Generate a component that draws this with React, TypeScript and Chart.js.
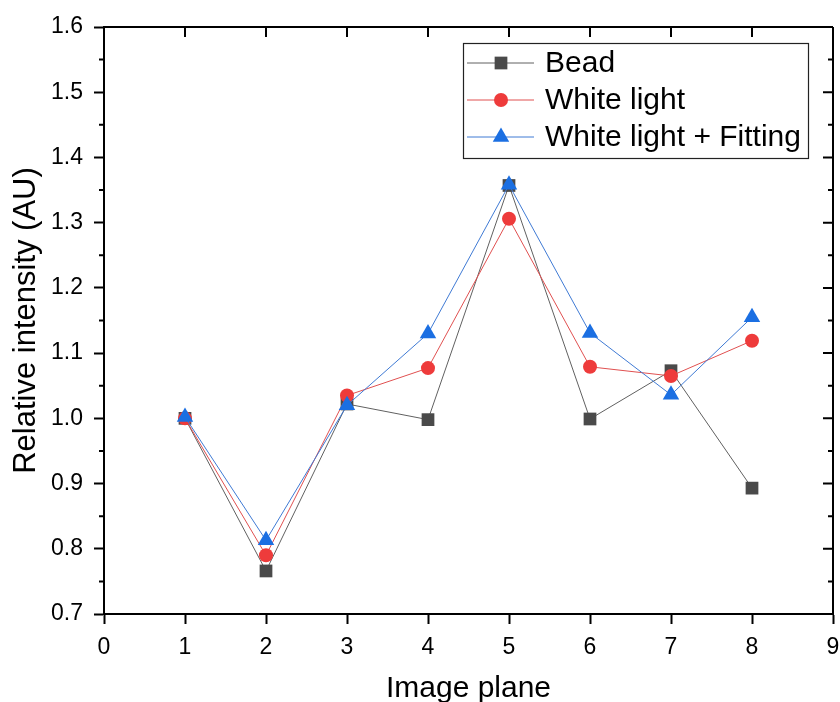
import { useEffect, useRef } from 'react';
import { Chart, registerables } from 'chart.js';

Chart.register(...registerables);

// Image planes along the x axis
const planes = [1, 2, 3, 4, 5, 6, 7, 8];

// Relative intensity per image plane
const beadValues = [1.0, 0.766, 1.022, 0.998, 1.357, 0.999, 1.073, 0.893];
const whiteLightValues = [1.0, 0.79, 1.035, 1.077, 1.306, 1.079, 1.065, 1.119];
const fittingValues = [1.002, 0.813, 1.02, 1.13, 1.358, 1.131, 1.036, 1.155];

// Axis ranges and tick positions
const xRange = [0, 9];
const yRange = [0.7, 1.6];
const xMajorTicks = [0, 1, 2, 3, 4, 5, 6, 7, 8, 9];
const yMajorTicks = [0.7, 0.8, 0.9, 1.0, 1.1, 1.2, 1.3, 1.4, 1.5, 1.6];
const yMinorTicks = [0.75, 0.85, 0.95, 1.05, 1.15, 1.25, 1.35, 1.45, 1.55];

const FONT = '"Liberation Sans", Arial, sans-serif';

const seriesStyle = [
  { label: 'Bead', values: beadValues, line: '#606060', fill: '#4a4a4a', shape: 'rect', radius: 9, order: 3 },
  { label: 'White light', values: whiteLightValues, line: '#e05050', fill: '#ee3b3b', shape: 'circle', radius: 7, order: 2 },
  { label: 'White light + Fitting', values: fittingValues, line: '#3f7ad4', fill: '#1b6fe2', shape: 'triangle', radius: 9.5, order: 1 },
];

function drawMarker(ctx: CanvasRenderingContext2D, shape: string, x: number, y: number, r: number, color: string) {
  ctx.save();
  ctx.fillStyle = color;
  ctx.beginPath();
  if (shape === 'rect') {
    const s = Math.SQRT1_2 * r;
    ctx.rect(x - s, y - s, 2 * s, 2 * s);
  } else if (shape === 'circle') {
    ctx.arc(x, y, r, 0, Math.PI * 2);
  } else {
    let a = 0;
    ctx.moveTo(x + Math.sin(a) * r, y - Math.cos(a) * r);
    a += (2 * Math.PI) / 3;
    ctx.lineTo(x + Math.sin(a) * r, y - Math.cos(a) * r);
    a += (2 * Math.PI) / 3;
    ctx.lineTo(x + Math.sin(a) * r, y - Math.cos(a) * r);
    ctx.closePath();
  }
  ctx.fill();
  ctx.restore();
}

// Top/right frame with inward ticks, plus minor ticks on the y axes
const framePlugin = {
  id: 'frame',
  afterDraw(chart: any) {
    const { ctx, chartArea } = chart;
    const xs = chart.scales.x;
    const ys = chart.scales.y;
    const { left, right, top, bottom } = chartArea;
    ctx.save();
    ctx.strokeStyle = '#000';
    ctx.lineWidth = 2;
    ctx.beginPath();
    ctx.moveTo(left, top);
    ctx.lineTo(right, top);
    ctx.moveTo(right, top);
    ctx.lineTo(right, bottom);
    ctx.stroke();

    ctx.beginPath();
    // top inward major ticks
    xMajorTicks.forEach((v) => {
      const px = xs.getPixelForValue(v);
      ctx.moveTo(px, top);
      ctx.lineTo(px, top + 10);
    });
    // right inward major ticks
    yMajorTicks.forEach((v) => {
      const py = ys.getPixelForValue(v);
      ctx.moveTo(right, py);
      ctx.lineTo(right - 10, py);
    });
    // minor ticks: left outward, right inward
    yMinorTicks.forEach((v) => {
      const py = ys.getPixelForValue(v);
      ctx.moveTo(left, py);
      ctx.lineTo(left - 5, py);
      ctx.moveTo(right, py);
      ctx.lineTo(right - 5, py);
    });
    ctx.stroke();
    ctx.restore();
  },
};

// Boxed legend in the upper right of the plot
const legendPlugin = {
  id: 'boxLegend',
  afterDraw(chart: any) {
    const { ctx } = chart;
    const boxX = 463;
    const boxY = 43;
    const boxW = 345;
    const boxH = 115;
    ctx.save();
    ctx.fillStyle = '#fff';
    ctx.fillRect(boxX, boxY, boxW, boxH);
    ctx.strokeStyle = '#222';
    ctx.lineWidth = 1.2;
    ctx.strokeRect(boxX + 0.5, boxY + 0.5, boxW, boxH);
    ctx.font = `30px ${FONT}`;
    ctx.textBaseline = 'middle';
    ctx.textAlign = 'left';
    seriesStyle.forEach((s, i) => {
      const cy = boxY + 20 + i * 37;
      ctx.strokeStyle = s.line;
      ctx.lineWidth = 1;
      ctx.beginPath();
      ctx.moveTo(467, cy);
      ctx.lineTo(534, cy);
      ctx.stroke();
      drawMarker(ctx, s.shape, 501, cy, s.radius, s.fill);
      ctx.fillStyle = '#000';
      ctx.fillText(s.label, 545, cy + 1);
    });
    ctx.restore();
  },
};

export default function App() {
  const canvasRef = useRef<HTMLCanvasElement | null>(null);

  useEffect(() => {
    const canvas = canvasRef.current;
    if (!canvas) return;
    const chart = new Chart(canvas, {
      type: 'line',
      data: {
        datasets: seriesStyle.map((s) => ({
          label: s.label,
          data: planes.map((p, i) => ({ x: p, y: s.values[i] })),
          borderColor: s.line,
          backgroundColor: s.fill,
          borderWidth: 1,
          pointStyle: s.shape as any,
          pointRadius: s.radius,
          pointBorderWidth: 0,
          pointBackgroundColor: s.fill,
          pointBorderColor: s.fill,
          tension: 0,
          order: s.order,
        })),
      },
      options: {
        animation: false,
        responsive: false,
        devicePixelRatio: 1,
        layout: { autoPadding: false, padding: { left: 0, top: 27, right: 7, bottom: 0 } },
        plugins: {
          legend: { display: false },
          tooltip: { enabled: false },
        },
        scales: {
          x: {
            type: 'linear',
            min: xRange[0],
            max: xRange[1],
            afterFit: (scale: any) => {
              scale.height = 88;
              scale.paddingLeft = 0;
              scale.paddingRight = 0;
            },
            afterBuildTicks: (scale: any) => {
              scale.ticks = xMajorTicks.map((v) => ({ value: v }));
            },
            ticks: {
              color: '#000',
              font: { family: FONT, size: 23 },
              padding: 10,
              callback: (v: any) => String(v),
            },
            grid: {
              drawOnChartArea: false,
              drawTicks: true,
              tickLength: 10,
              tickWidth: 2,
              tickColor: '#000',
            },
            border: { display: true, color: '#000', width: 2 },
            title: {
              display: true,
              text: 'Image plane',
              color: '#000',
              font: { family: FONT, size: 30, lineHeight: 1 },
              padding: { top: 0, bottom: -2 },
            },
          },
          y: {
            type: 'linear',
            min: yRange[0],
            max: yRange[1],
            afterFit: (scale: any) => {
              scale.width = 104;
              scale.paddingTop = 0;
              scale.paddingBottom = 0;
            },
            afterBuildTicks: (scale: any) => {
              scale.ticks = yMajorTicks.map((v) => ({ value: v }));
            },
            ticks: {
              color: '#000',
              font: { family: FONT, size: 23 },
              padding: 11,
              callback: (v: any) => Number(v).toFixed(1),
            },
            grid: {
              drawOnChartArea: false,
              drawTicks: true,
              tickLength: 10,
              tickWidth: 2,
              tickColor: '#000',
            },
            border: { display: true, color: '#000', width: 2 },
            title: {
              display: true,
              text: 'Relative intensity (AU)',
              color: '#000',
              font: { family: FONT, size: 31, lineHeight: 1 },
              padding: { top: 11, bottom: 0 },
            },
          },
        },
      },
      plugins: [framePlugin, legendPlugin],
    });
    return () => chart.destroy();
  }, []);

  return (
    <div style={{ position: 'fixed', left: 0, top: 0, width: 840, height: 702, background: '#fff' }}>
      <canvas ref={canvasRef} width={840} height={702} style={{ display: 'block' }} />
    </div>
  );
}
